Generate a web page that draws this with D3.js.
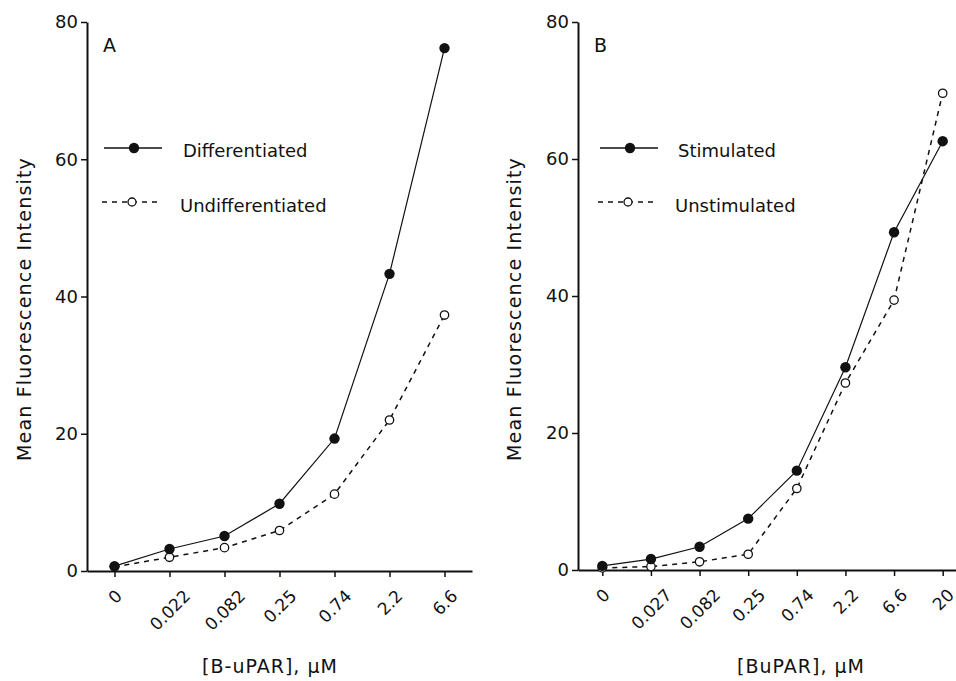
<!DOCTYPE html>
<html>
<head>
<meta charset="utf-8">
<script src="https://cdn.jsdelivr.net/npm/d3@7"></script>
<style>
  body { margin: 0; background: #fff; }
  text { font-family: "DejaVu Sans", sans-serif; fill: #111; }
</style>
</head>
<body>
<div id="graph"></div>
<script>
// ------- data --------
var concA = ['0', '0.022', '0.082', '0.25', '0.74', '2.2', '6.6']
var differentiated = [0.7, 3.2, 5.1, 9.8, 19.3, 43.3, 76.2]
var undifferentiated = [0.6, 2.0, 3.4, 5.9, 11.2, 22.0, 37.3]

var concB = ['0', '0.027', '0.082', '0.25', '0.74', '2.2', '6.6', '20']
var stimulated = [0.6, 1.6, 3.4, 7.5, 14.5, 29.6, 49.3, 62.6]
var unstimulated = [0.3, 0.5, 1.2, 2.3, 11.9, 27.3, 39.4, 69.6]

var yTicks = [0, 20, 40, 60, 80]

var width = 956, height = 681

var svg = d3.select('#graph').html('')
    .append('svg')
    .attr('width', width)
    .attr('height', height)

// one panel = one little chart
function panel(opt) {
    var x = d3.scalePoint()
        .domain(opt.cats)
        .range(opt.xRange)
        .padding(0.5)
    var y = d3.scaleLinear()
        .domain([0, 80])
        .range([opt.y0, 22])

    var g = svg.append('g')

    // y axis
    var yAxis = g.append('g')
        .attr('transform', 'translate(' + opt.xRange[0] + ',0)')
        .call(d3.axisLeft(y).tickValues(yTicks).tickSize(6).tickSizeOuter(0))
    yAxis.select('.domain').attr('stroke', '#111').attr('stroke-width', 2)
    yAxis.selectAll('.tick line').attr('stroke', '#111').attr('stroke-width', 1.5)
    yAxis.selectAll('.tick text')
        .attr('x', -9)
        .style('font-size', '18px')
        .style('font-family', '"DejaVu Sans", sans-serif')
        .attr('fill', '#111')

    // x axis
    var xAxis = g.append('g')
        .attr('transform', 'translate(0,' + opt.y0 + ')')
        .call(d3.axisBottom(x).tickSize(6).tickSizeOuter(0))
    xAxis.select('.domain').attr('stroke', '#111').attr('stroke-width', 2)
    xAxis.selectAll('.tick line').attr('stroke', '#111').attr('stroke-width', 1.5)
    xAxis.selectAll('.tick text')
        .style('font-size', '17px')
        .style('font-family', '"DejaVu Sans", sans-serif')
        .attr('fill', '#111')
        .attr('dy', null)
        .attr('y', null)
        .style('text-anchor', 'middle')
        .attr('transform', function() {
            var len = this.getComputedTextLength()
            var h = len * Math.SQRT1_2 / 2
            return 'translate(0,' + (22 + h) + ')rotate(-45)'
        })
        .attr('dy', '0.35em')

    // lines
    var line = d3.line()
        .x(function(d, i) { return x(opt.cats[i]) })
        .y(function(d) { return y(d) })

    g.append('path')
        .datum(opt.open)
        .attr('d', line)
        .attr('fill', 'none')
        .attr('stroke', '#111')
        .attr('stroke-width', 1.5)
        .attr('stroke-dasharray', '5,5')

    g.append('path')
        .datum(opt.filled)
        .attr('d', line)
        .attr('fill', 'none')
        .attr('stroke', '#111')
        .attr('stroke-width', 1.2)

    g.selectAll('.open')
        .data(opt.open)
        .enter()
        .append('circle')
        .attr('class', 'open')
        .attr('cx', function(d, i) { return x(opt.cats[i]) })
        .attr('cy', function(d) { return y(d) })
        .attr('r', 4.2)
        .attr('fill', '#fff')
        .attr('stroke', '#111')
        .attr('stroke-width', 1.3)

    g.selectAll('.filled')
        .data(opt.filled)
        .enter()
        .append('circle')
        .attr('class', 'filled')
        .attr('cx', function(d, i) { return x(opt.cats[i]) })
        .attr('cy', function(d) { return y(d) })
        .attr('r', 5.2)
        .attr('fill', '#111')

    // panel letter
    g.append('text')
        .attr('x', opt.xRange[0] + 16)
        .attr('y', 52)
        .style('font-size', '19px')
        .text(opt.letter)

    // legend
    var lx = opt.xRange[0] + opt.legendDx
    var leg = g.append('g')
    leg.append('line')
        .attr('x1', lx).attr('x2', lx + 58)
        .attr('y1', 148).attr('y2', 148)
        .attr('stroke', '#111').attr('stroke-width', 1.5)
    leg.append('circle')
        .attr('cx', lx + 30).attr('cy', 148).attr('r', 5.2)
        .attr('fill', '#111')
    leg.append('text')
        .attr('x', lx + opt.textDx).attr('y', 157)
        .style('font-size', '18px')
        .text(opt.names[0])

    leg.append('line')
        .attr('x1', lx - 2).attr('x2', lx + 56)
        .attr('y1', 202).attr('y2', 202)
        .attr('stroke', '#111').attr('stroke-width', 1.5)
        .attr('stroke-dasharray', '5,5')
    leg.append('circle')
        .attr('cx', lx + 28).attr('cy', 202).attr('r', 4)
        .attr('fill', '#fff')
        .attr('stroke', '#111').attr('stroke-width', 1.3)
    leg.append('text')
        .attr('x', lx + opt.textDx - 3).attr('y', 212)
        .style('font-size', '18px')
        .text(opt.names[1])

    // axis titles
    g.append('text')
        .attr('transform', 'translate(' + opt.yTitleX + ',309)rotate(-90)')
        .style('text-anchor', 'middle')
        .style('font-size', '19px')
        .style('letter-spacing', '1.2px')
        .text('Mean Fluorescence Intensity')

    g.append('text')
        .attr('x', opt.xTitleX)
        .attr('y', 673)
        .style('text-anchor', 'middle')
        .style('font-size', '19px')
        .style('letter-spacing', '1px')
        .text(opt.xTitle)
}

panel({
    cats: concA,
    filled: differentiated,
    open: undifferentiated,
    xRange: [87, 472],
    y0: 571,
    letter: 'A',
    legendDx: 17,
    textDx: 79,
    names: ['Differentiated', 'Undifferentiated'],
    yTitleX: 31,
    xTitleX: 270,
    xTitle: '[B-uPAR], \u03bcM'
})

panel({
    cats: concB,
    filled: stimulated,
    open: unstimulated,
    xRange: [578, 967],
    y0: 570,
    letter: 'B',
    legendDx: 22,
    textDx: 78,
    names: ['Stimulated', 'Unstimulated'],
    yTitleX: 521,
    xTitleX: 801,
    xTitle: '[BuPAR], \u03bcM'
})
</script>
</body>
</html>
